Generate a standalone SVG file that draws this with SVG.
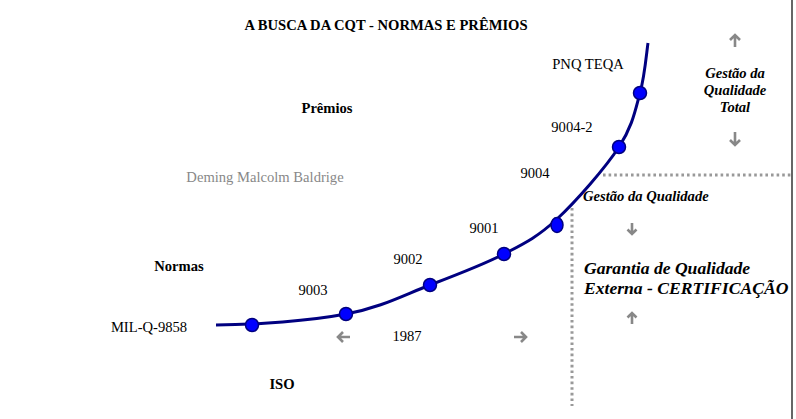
<svg xmlns="http://www.w3.org/2000/svg" width="796" height="419" viewBox="0 0 796 419">
<defs>
<style>
text{font-family:"Liberation Serif","Times New Roman",serif;fill:#000;}
.b{font-weight:bold;font-size:14.6px;}
.r{font-size:14.6px;}
.bi{font-weight:bold;font-style:italic;font-size:14.6px;}
.big{font-weight:bold;font-style:italic;font-size:17.6px;}
.dot{fill:#0000ff;stroke:#000080;stroke-width:1.5;}
.arr{fill:none;stroke:#888;stroke-width:2.6;stroke-linecap:butt;stroke-linejoin:miter;}
.dash{fill:none;stroke:#999;stroke-width:3;stroke-dasharray:2.6 3;}
</style>
</defs>
<rect width="796" height="419" fill="#fff"/>
<line x1="792" y1="0" x2="792" y2="419" stroke="#666" stroke-width="2"/>
<g id="connectors">
<path id="curve" d="M216,325 C256,325 310.3,320.7 346,314 C381.7,307.3 403.7,295 430,285 C456.3,275 482.8,265 504,254 C525.2,243 537.8,236.8 557,219 C576.2,201.2 605.2,168 619,147 C632.8,125.5 635.2,110.3 640,93 C644.8,75.7 646.7,51.3 648,43" fill="none" stroke="#000080" stroke-width="3"/>
<path class="dash" d="M603,175 H792"/>
<path class="dash" d="M572,208 V406"/>
<path class="arr" d="M735,47 V35 M730,40 L735,35 L740,40"/>
<path class="arr" d="M735,132 V145 M730,140 L735,145 L740,140"/>
<path class="arr" d="M632,223 V234 M627.5,229.5 L632,234 L636.5,229.5"/>
<path class="arr" d="M632,324 V313 M627.5,317.5 L632,313 L636.5,317.5"/>
<path class="arr" d="M350,337 H338 M343,332 L338,337 L343,342"/>
<path class="arr" d="M514,337 H526 M521,332 L526,337 L521,342"/>
</g>
<g id="title"><text class="b" x="386" y="30" text-anchor="middle">A BUSCA DA CQT - NORMAS E PRÊMIOS</text></g>
<g id="premios"><text class="b" x="327" y="113" text-anchor="middle">Prêmios</text></g>
<g id="deming"><text class="r" x="265" y="182" text-anchor="middle" style="fill:#888">Deming Malcolm Baldrige</text></g>
<g id="normas"><text class="b" x="179" y="271" text-anchor="middle">Normas</text></g>
<g id="iso"><text class="b" x="282" y="389" text-anchor="middle">ISO</text></g>
<g id="n1987"><text class="r" x="407" y="341" text-anchor="middle">1987</text></g>
<g id="mil"><circle class="dot" cx="252" cy="325" r="6.5"/><text class="r" x="149" y="332" text-anchor="middle">MIL-Q-9858</text></g>
<g id="n9003"><circle class="dot" cx="346" cy="314" r="6.5"/><text class="r" x="313" y="295" text-anchor="middle">9003</text></g>
<g id="n9002"><circle class="dot" cx="430" cy="285" r="6.5"/><text class="r" x="408" y="264" text-anchor="middle">9002</text></g>
<g id="n9001"><circle class="dot" cx="504" cy="254" r="6.5"/><text class="r" x="484" y="233" text-anchor="middle">9001</text></g>
<g id="n9004"><ellipse class="dot" cx="557" cy="225" rx="6" ry="7.5"/><text class="r" x="535" y="178" text-anchor="middle">9004</text></g>
<g id="n9004-2"><circle class="dot" cx="619" cy="147" r="6.5"/><text class="r" x="572" y="132" text-anchor="middle">9004-2</text></g>
<g id="pnq"><circle class="dot" cx="640" cy="93" r="6.5"/><text class="r" x="588" y="69" text-anchor="middle">PNQ TEQA</text></g>
<g id="gqt"><text class="bi" text-anchor="middle"><tspan x="735" y="78">Gestão da</tspan><tspan x="735" y="95">Qualidade</tspan><tspan x="735" y="112">Total</tspan></text></g>
<g id="gq"><text class="bi" x="583" y="201">Gestão da Qualidade</text></g>
<g id="garantia"><text class="big"><tspan x="584" y="274">Garantia de Qualidade</tspan><tspan x="584" y="294">Externa - CERTIFICAÇÃO</tspan></text></g>
</svg>
